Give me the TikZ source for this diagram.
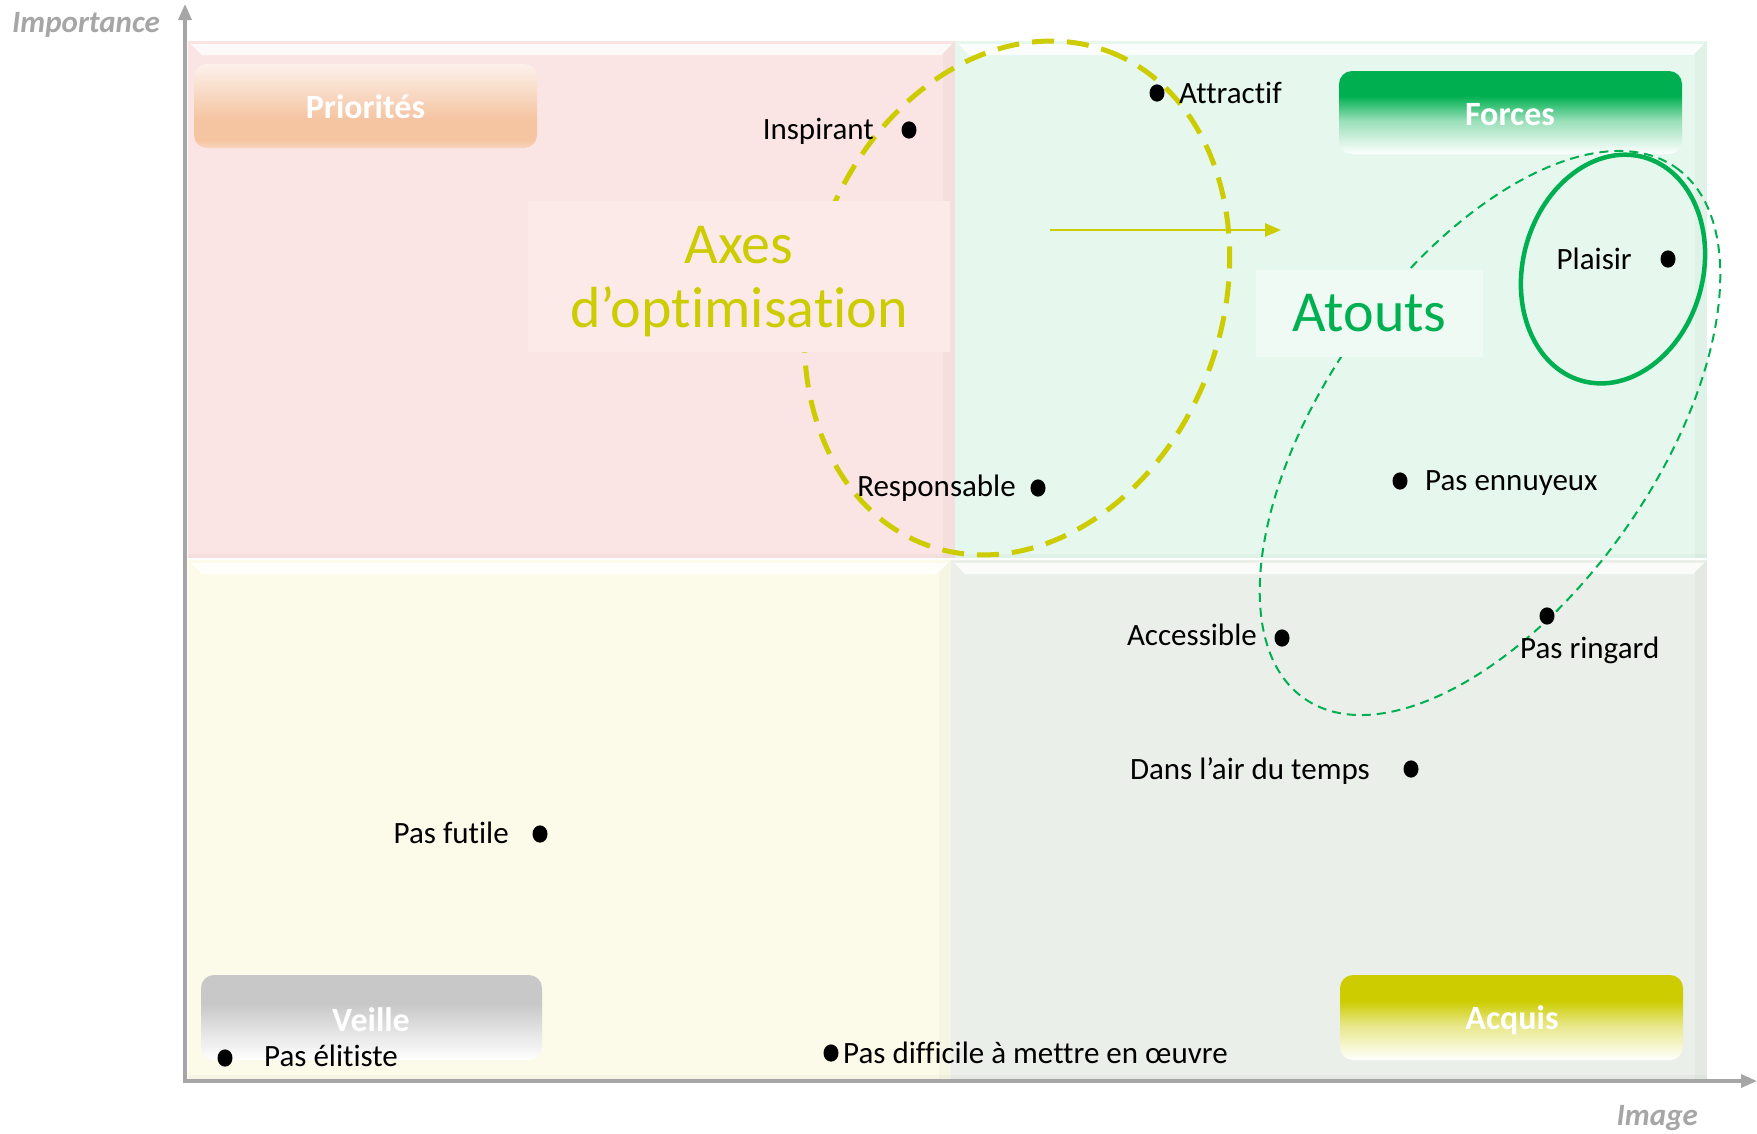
\documentclass[tikz,border=0pt]{standalone}
\usepackage{fontspec}
\setmainfont{Carlito}[RawFeature={-liga;-clig;-calt;-dlig}]
\usetikzlibrary{arrows.meta}
\definecolor{qpink}{HTML}{FBE5E4}
\definecolor{qgreen}{HTML}{E6F7EE}
\definecolor{qyellow}{HTML}{FCFAE8}
\definecolor{qgray}{HTML}{EBEFEA}
\definecolor{ygreen}{HTML}{CCCC00}
\definecolor{fgreen}{HTML}{00B050}
\definecolor{axisgray}{HTML}{A6A6A6}
\definecolor{porange}{HTML}{F5C4A1}
\definecolor{porlight}{HTML}{FCF1EB}
\definecolor{vgray}{HTML}{C8C8C8}
\pgfdeclareverticalshading{prioshade}{100bp}{color(0bp)=(porange!70!white); color(25bp)=(porange!70!white); color(30bp)=(porange); color(42bp)=(porange); color(75bp)=(porlight); color(100bp)=(porlight)}
\pgfdeclareverticalshading{forceshade}{100bp}{color(0bp)=(white); color(25bp)=(white); color(45bp)=(fgreen!40!white); color(60bp)=(fgreen); color(100bp)=(fgreen)}
\pgfdeclareverticalshading{veilleshade}{100bp}{color(0bp)=(white); color(25bp)=(white); color(45bp)=(vgray!60!white); color(58bp)=(vgray); color(100bp)=(vgray)}
\pgfdeclareverticalshading{acquisshade}{100bp}{color(0bp)=(white); color(25bp)=(white); color(45bp)=(ygreen!45!white); color(60bp)=(ygreen); color(100bp)=(ygreen)}
\tikzset{
  bevel/.style={fill=white, fill opacity=0.8, draw=none},
  sideshade/.style={fill=black, fill opacity=0.022, draw=none},
  tag/.style={rounded corners=13pt, draw=none, text=white, font=\bfseries\fontsize{34}{40}\selectfont},
  dot/.style={circle, fill=black, inner sep=0pt, minimum width=15pt, minimum height=15pt, yscale=1.15},
  lbl/.style={inner sep=0pt, text height=20pt, text depth=0pt, font=\fontsize{31}{37}\selectfont, text=black},
  axlbl/.style={inner sep=0pt, text=axisgray, font=\bfseries\itshape\fontsize{31}{36}\selectfont},
  bigtxt/.style={inner sep=0pt, font=\fontsize{58}{65}\selectfont, align=center},
  axisline/.style={draw=axisgray, line width=3.5pt, -{Triangle[length=16pt,width=13pt]}},
}
\begin{document}
\begin{tikzpicture}[x=1pt,y=-1pt]
\useasboundingbox (0,0) rectangle (1757,1133);
% quadrants
\fill[qpink] (188,41) rectangle (955,558);
\fill[qgreen] (955,41) rectangle (1707,558);
\fill[qyellow] (188,560) rectangle (951,1079);
\fill[qgray] (951,560) rectangle (1707,1079);
% bevels
\foreach \L/\T/\R/\B in {188/41/955/558, 955/41/1707/558, 188/560/951/1079, 951/560/1707/1079}{
  \path[bevel] (\L+3,\T+3) -- (\R-3,\T+3) -- (\R-14,\T+14) -- (\L+14,\T+14) -- cycle;
  \path[sideshade] (\R-12,\T+12) -- (\R,\T) -- (\R,\B) -- (\R-12,\B) -- cycle;
  \path[sideshade] (\L,\B-4) -- (\R,\B-4) -- (\R,\B) -- (\L,\B) -- cycle;
}
% label boxes
\path[tag, shading=prioshade] (194,64) rectangle (537,148);
\node[tag] (prio) at (365.5,107) {Priorités};
\path[tag, shading=forceshade] (1339,71) rectangle (1682,154);
\node[tag] (forces) at (1510,115) {Forces};
\path[tag, shading=veilleshade] (201,975) rectangle (542,1060);
\node[tag] (veille) at (371,1020) {Veille};
\path[tag, shading=acquisshade] (1340,975) rectangle (1683,1060);
\node[tag] (acquis) at (1512,1020) {Acquis};
% ellipses
\coordinate (cy) at (1017,298);
\draw[ygreen, line width=5pt, dash pattern=on 22pt off 13pt, rotate around={70:(cy)}] (cy) ellipse (263 and 205);
\coordinate (cg) at (1490,433);
\draw[fgreen, line width=2pt, dash pattern=on 9pt off 6pt, rotate around={55:(cg)}] (cg) ellipse (324 and 166);
% text boxes
\node[fill=qpink!80!white, inner sep=0pt, minimum width=422pt, minimum height=151pt] (axesbox) at (739,276) {};
\node[bigtxt, text=ygreen] (axes) at ([yshift=-6pt]axesbox.center) {Axes\\[-1pt]d’optimisation};
\node[bigtxt, fill=qgreen!65!white, text=fgreen, minimum width=227pt, minimum height=87pt] (atouts) at (1369.5,313) {Atouts};
\coordinate (cp) at (1613,269);
\draw[fgreen, line width=4.5pt, rotate around={74.5:(cp)}] (cp) ellipse (116 and 90);
% arrow
\coordinate (arS) at (1050,230);
\coordinate (arE) at (1281,230);
\draw[ygreen, line width=2.5pt, -{Triangle[length=16pt,width=13pt]}] (arS) -- (arE);
% axes
\coordinate (origin) at (185,1081);
\coordinate (ytip) at (185,4);
\coordinate (xtip) at (1757,1081);
\draw[axisline] (origin) -- (ytip);
\draw[axisline] ([xshift=-2pt]origin) -- (xtip);
\node[axlbl, anchor=east] (imp) at (160,25) {Importance};
\node[axlbl, anchor=east] (img) at (1698,1118) {Image};
% dots and labels
\node[dot] (d1) at (909,130) {};
\node[lbl, anchor=east] (t1) at (874,129) {Inspirant};
\node[dot] (d2) at (1157,93) {};
\node[lbl, anchor=west] (t2) at (1179,93) {Attractif};
\node[dot] (d3) at (1668,259) {};
\node[lbl, anchor=east] (t3) at (1632,259) {Plaisir};
\node[dot] (d4) at (1038,488) {};
\node[lbl, anchor=east] (t4) at (1016,486) {Responsable};
\node[dot] (d5) at (1400,481) {};
\node[lbl, anchor=west] (t5) at (1425,480) {Pas ennuyeux};
\node[dot] (d6) at (1282,638) {};
\node[lbl, anchor=east] (t6) at (1257,635) {Accessible};
\node[dot] (d7) at (1547,616) {};
\node[lbl, anchor=west] (t7) at (1520,648) {Pas ringard};
\node[dot] (d8) at (1411,769) {};
\node[lbl, anchor=east] (t8) at (1370,769) {Dans l’air du temps};
\node[dot] (d9) at (540,834) {};
\node[lbl, anchor=east] (t9) at (509,833) {Pas futile};
\node[dot] (d10) at (225,1058) {};
\node[lbl, anchor=west] (t10) at (264,1056) {Pas élitiste};
\node[dot] (d11) at (831,1053) {};
\node[lbl, anchor=west] (t11) at (843,1053) {Pas difficile à mettre en œuvre};
\end{tikzpicture}
\end{document}
